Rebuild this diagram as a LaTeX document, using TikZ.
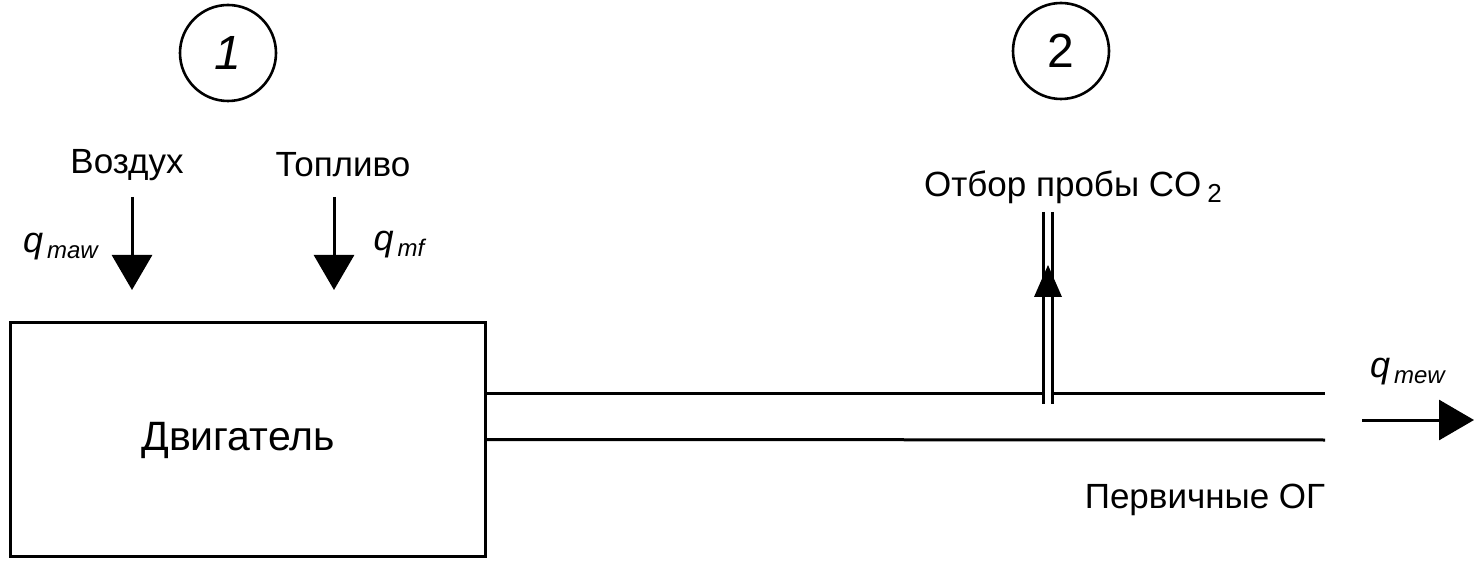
\documentclass[tikz,border=0pt]{standalone}
\usepackage{fontspec}
\setmainfont{Liberation Sans}
\usetikzlibrary{arrows.meta}
\tikzset{
  lbl/.style={font=\fontsize{17.5}{20}\selectfont, inner sep=0pt},
  qlbl/.style={font=\fontsize{18}{21}\selectfont, inner sep=0pt},
  pipe/.style={line width=1.5pt},
  flow/.style={line width=1.5pt, -{Triangle[width=20pt,length=17.5pt]}},
  numcirc/.style={circle, draw, line width=1.3pt, minimum size=48pt, inner sep=0pt,
    font=\fontsize{24}{28}\selectfont},
}
\newcommand{\qsub}[1]{\textit{q}\kern2pt\raisebox{-3pt}{\fontsize{12}{14}\selectfont\textit{#1}}}

\begin{document}
\begin{tikzpicture}[x=0.5pt,y=-0.5pt]
    \useasboundingbox (0,0) rectangle (1478,561);

    % номера точек
    \node[numcirc] (num1) at (228,53) {\textit{1}};
    \node[numcirc] (num2) at (1061,51) {2};

    % двигатель
    \node[draw, pipe, minimum width=237.5pt, minimum height=116.5pt] (engine) at (247.5,439.5) {};
    \node[lbl, font=\fontsize{20.5}{24}\selectfont] (enginetxt) at (238,440) {Двигатель};

    % воздух и топливо
    \node[lbl] (air) at (127,165) {Воздух};
    \node[lbl] (fuel) at (343,165) {Топливо};
    \coordinate (airtop) at (132,197);
    \coordinate (airend) at (132,290);
    \coordinate (fueltop) at (334,197);
    \coordinate (fuelend) at (334,290);
    \draw[flow] (airtop) -- (airend);
    \draw[flow] (fueltop) -- (fuelend);
    \node[qlbl] (qmaw) at (61,247) {\qsub{maw}};
    \node[qlbl] (qmf) at (400,245) {\qsub{mf}};

    % выпускная труба
    \coordinate (topgapl) at (1043,393);
    \coordinate (topgapr) at (1052,393);
    \coordinate (topend) at (1325,393);
    \coordinate (botend) at (1325,440);
    \draw[pipe] (engine.east |- topgapl) -- (topgapl);
    \draw[pipe] (topgapr) -- (topend);
    \draw[pipe] (engine.east) -- (botend);

    % пробоотборник
    \coordinate (probel) at (1043,212);
    \coordinate (prober) at (1052,212);
    \draw[pipe] (probel) -- ++(0,192);
    \draw[pipe] (prober) -- ++(0,192);
    \fill (1034,297) -- (1048,265) -- (1062,297) -- cycle;
    \node[lbl] (sample) at (1073,187) {Отбор пробы CO\kern3pt\raisebox{-3pt}{\fontsize{13}{15}\selectfont 2}};

    % отработавшие газы
    \coordinate (exstart) at (1362,420);
    \coordinate (exend) at (1474,420);
    \draw[flow] (exstart) -- (exend);
    \node[qlbl] (qmew) at (1408,372) {\qsub{mew}};
    \node[lbl] (primary) at (1205,500) {Первичные ОГ};
\end{tikzpicture}
\end{document}
